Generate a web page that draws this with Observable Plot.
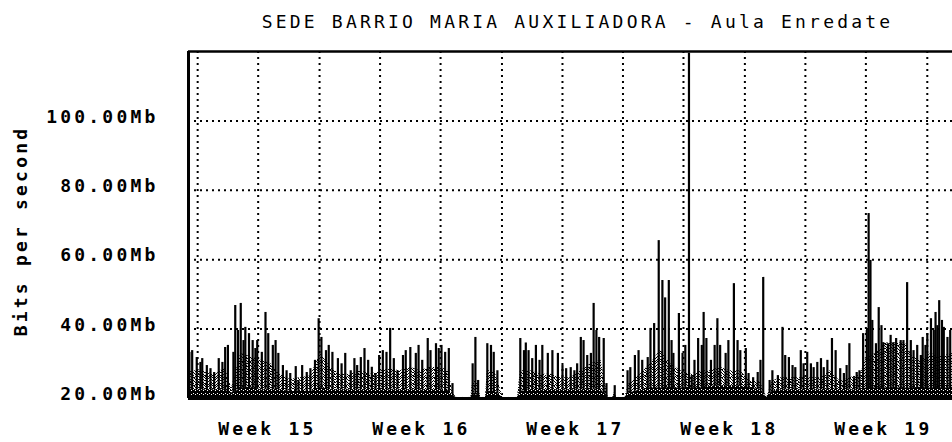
<!DOCTYPE html>
<html><head><meta charset="utf-8">
<script src="https://cdn.jsdelivr.net/npm/d3@7"></script>
<script src="https://cdn.jsdelivr.net/npm/@observablehq/plot@0.6"></script>
<style>
html,body{margin:0;padding:0;background:#fff;}
#chart svg{display:block;}
</style></head><body><div id="chart"></div>
<script>
const title = "SEDE BARRIO MARIA AUXILIADORA - Aula Enredate";
const yTitle = "Bits per second";
const weekLabels = ["Week 15", "Week 16", "Week 17", "Week 18", "Week 19"];
const weekHours = [86, 254, 422, 590, 758];
const gridHours = [10, 76, 143, 209, 275, 342, 408, 474, 540, 607, 673, 739, 806];
const yTicks = [20, 40, 60, 80, 100];
const yGrid = [40, 60, 80, 100];

// peak (max) traffic, Mb/s
const peakHours = [
  1,4,9,13,15,20,24,28,33,37,
  40,43,46,49,51,54,57,60,62,66,
  70,73,75,80,84,87,92,95,98,103,
  107,111,117,120,124,129,133,138,142,145,
  150,153,157,163,167,171,177,181,184,188,
  192,196,200,204,208,212,216,220,224,228,
  234,237,242,248,251,255,261,264,270,273,
  276,280,284,288,292,299,306,310,313,316,
  321,326,330,333,337,342,349,357,362,366,
  368,371,375,379,383,386,392,397,403,408,
  412,417,421,424,428,431,435,439,442,445,
  448,453,456,460,465,469,474,479,482,487,
  491,495,501,504,508,513,517,520,524,527,
  529,535,539,542,546,549,552,556,560,562,
  565,570,574,577,580,586,589,595,599,602,
  608,611,616,621,624,627,631,634,637,643,
  648,651,655,659,662,668,671,675,679,682,
  686,690,693,697,702,706,711,715,718,721,
  726,729,732,736,740,742,744,746,750,753,
  756,758,763,766,769,772,777,780,784,788,
  791,795,799,801,804,806,810,813,815,817,
  819,822,824,828,831
];
const peakMb = [
  33.3,33.8,31.8,30.4,31.5,29.5,28.6,27.5,31.5,30.4,
  34.7,35.3,21.7,33.3,46.8,39.6,47.4,36.7,40.5,38.7,
  36.7,34.4,36.7,33.3,44.8,38.7,35.3,36.7,33,29.5,
  28,27.2,29.2,25.2,29.5,27.5,28.6,31,43,37.6,
  33.8,35.3,33.3,31.5,30,33,28,31.5,29.5,31.8,
  34.4,31,29,27.2,32.4,33.8,33.3,40.2,31.5,28,
  32.4,33.8,34.7,33,35.3,31,37.3,33.8,35.8,34.4,
  35.3,33.3,34.4,24.3,20.3,20.3,20.3,30,37.6,25.2,
  20.3,35.8,35.3,33.3,28,20.3,20.3,20.3,37.3,33.8,
  36,33.8,31.5,35.3,31,35.3,33,33.8,33,29.5,
  28.6,28.9,28,30,37.6,36.7,32.4,33,47.4,39.6,
  37.6,37.3,24.3,20.3,23.7,20.3,20.3,28,28.9,32.4,
  33.8,31,31.8,40.2,41.6,65.5,54,49,54,36.7,
  33,44.5,33,35.3,119.5,26.6,31,37.3,35.3,44.8,
  37.3,31,35.3,43,35.3,33,36.7,53.1,36.7,33.8,
  34.4,27.2,26,27.5,31,54.9,20.3,25.2,28,26.6,
  40.5,32.4,31.8,29.5,28.9,33.8,30,33.3,30,28.9,
  30.4,31.5,28.9,31,37.3,33.8,28.6,27.2,29.5,35.8,
  26,27.5,28,38.7,39.6,73.3,59.8,42.5,35.8,46.2,
  41,36.1,35.8,38.2,36.1,37.3,36.7,36.7,53.4,36.7,
  33.8,35.3,32.4,37.6,35.3,38.7,43,39.6,44.8,41,
  48.2,42.5,40.5,37.6,39.6
];

// average traffic and dark low band, Mb/s
const avgHours = [
  0,13,30,40,47,57,68,79,90,100,
  111,122,133,144,155,166,177,188,199,210,
  220,231,242,253,264,275,284,288,292,308,
  310,315,319,324,326,334,339,343,359,362,
  373,384,395,406,417,428,439,450,455,458,
  463,465,467,476,480,493,504,515,526,537,
  548,559,570,580,591,602,613,624,628,631,
  633,637,646,657,668,679,690,700,711,722,
  733,740,750,760,771,782,790,799,810,820,834
];
const avgMb = [
  28,28,27,29,23,33,32,31,30,27,
  25.5,26,26.5,33,29,27,27,28,27,28,
  28.5,28,29,28,29,29,28,22,20.3,20.3,
  25,25,20.3,20.3,28,28,24,20.3,20.3,28,
  28,27,27,26,26,28,30,31,24,20.3,
  20.3,22,20.3,20.3,24,27,30,34,30,28,
  27,28,28,29,28,28,25,25,22,20.3,
  22,25,26,26,26,26,26,28,25,26,
  27,32,33,36,36,36,32,31,33,32,33
];
const lowMb = [
  22.5,22.5,22.5,22.5,21,23,23,22.5,22.5,22.5,
  22,22,22,23,22.5,22.5,22.5,22.5,22.5,22.5,
  22.5,22.5,22.5,22.5,22.5,22.5,22,21,20.3,20.3,
  21,21,20.3,20.3,22,22,21,20.3,20.3,22,
  22.5,22.5,22.5,22.5,22.5,22.5,22.5,22.5,21,20.3,
  20.3,21,20.3,20.3,21.5,22.5,23,23,23,23,
  23,23,23.5,23.5,23.5,23.5,23,22.5,21,20.3,
  21,22,22.5,22.5,22.5,22.5,22.5,22.5,22.5,22.5,
  22.5,23,23,23,23,23,23,23,23,23,23
];

const peaks = peakHours.map((h, i) => ({h, v: peakMb[i]}));
const avg = avgHours.map((h, i) => ({h, v: avgMb[i], lo: lowMb[i]}));
const weeks = weekHours.map((h, i) => ({h, label: weekLabels[i]}));

const dotted = {stroke: "#000", strokeOpacity: 1, strokeWidth: 2, strokeDasharray: "2,4"};

const chart = Plot.plot({
  width: 952, height: 442,
  marginTop: 51, marginBottom: 44, marginLeft: 188, marginRight: 0,
  style: {fontFamily: "'DejaVu Sans Mono', monospace", fontSize: "18px", fontWeight: "bold", letterSpacing: "3.2px", background: "#fff", color: "#000"},
  x: {domain: [0, 833.5], axis: null},
  y: {domain: [20, 120], axis: null},
  marks: [
    Plot.gridX(gridHours, dotted),
    Plot.gridY(yGrid, dotted),
    Plot.areaY(avg, {x: "h", y1: 20, y2: "v", fill: "url(#dither)"}),
    Plot.ruleX(peaks, {x: "h", y1: 20, y2: "v", stroke: "#000", strokeWidth: 2.2}),
    Plot.areaY(avg, {x: "h", y1: 20, y2: "lo", fill: "url(#dark)"}),
    Plot.ruleY([20], {stroke: "#000", strokeWidth: 3}),
    Plot.ruleY([120], {stroke: "#000", strokeWidth: 2.5}),
    Plot.ruleX([0], {stroke: "#000", strokeWidth: 3}),
    Plot.axisY(yTicks, {tickSize: 0, tickPadding: 30, dy: -4, tickFormat: d => d.toFixed(2) + "Mb"}),
    Plot.text(weeks, {x: "h", text: "label", frameAnchor: "bottom", lineAnchor: "middle", dy: 31}),
    Plot.text([title], {frameAnchor: "top", lineAnchor: "middle", dy: -29, dx: 7, fontWeight: "normal", fontSize: 18}),
    Plot.text([yTitle], {frameAnchor: "left", textAnchor: "middle", lineAnchor: "middle", rotate: -90, dx: -167, dy: 6})
  ]
});

const ns = "http://www.w3.org/2000/svg";
const defs = document.createElementNS(ns, "defs");
const dots = (list) => list.map(([x, y]) => `<rect x="${x}" y="${y}" width="1" height="1" fill="#000"/>`).join("");
defs.innerHTML =
  '<pattern id="dither" width="8" height="8" patternUnits="userSpaceOnUse"><rect width="8" height="8" fill="#fff"/>' +
  dots([[0,0],[3,0],[5,0],[6,0],[1,1],[4,1],[7,1],[0,2],[2,2],[5,2],[3,3],[6,3],[7,3],
        [1,4],[4,4],[5,4],[0,5],[2,5],[6,5],[3,6],[7,6],[1,7],[4,7],[5,7],[2,1],[6,6]]) +
  '</pattern>' +
  '<pattern id="dark" width="4" height="4" patternUnits="userSpaceOnUse"><rect width="4" height="4" fill="#000"/>' +
  '<rect x="1" y="1" width="1" height="1" fill="#fff"/><rect x="3" y="2" width="1" height="1" fill="#fff"/>' +
  '</pattern>';
chart.insertBefore(defs, chart.firstChild);
document.getElementById("chart").appendChild(chart);
</script></body></html>
